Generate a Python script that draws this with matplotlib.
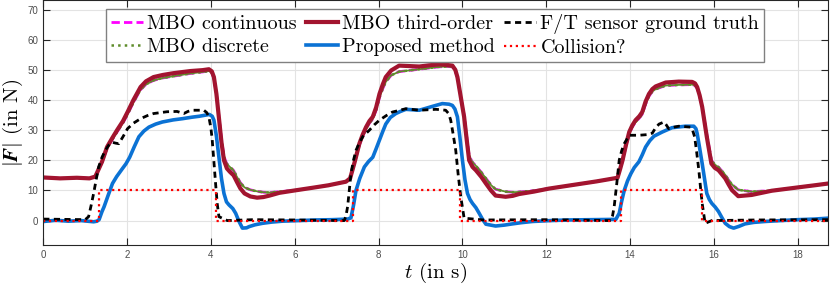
import matplotlib
matplotlib.use('Agg')
import matplotlib.pyplot as plt

plt.rcParams['mathtext.fontset'] = 'cm'
plt.rcParams['axes.unicode_minus'] = False

# MBO third-order (t in s, |F| in N)
t_third = [0, 0.4, 0.8, 1.1, 1.24, 1.4, 1.52, 1.65, 1.76, 1.9, 2.01, 2.15, 2.32, 2.45, 2.63, 2.85,
           3.11, 3.51, 3.8, 3.95, 4.02, 4.07, 4.13, 4.19, 4.25, 4.31, 4.38, 4.45, 4.54, 4.62, 4.7,
           4.8, 4.94, 5.1, 5.25, 5.4, 5.63, 6.0, 6.43, 6.8, 7.22, 7.32, 7.43, 7.54, 7.62, 7.7,
           7.78, 7.86, 7.94, 8.02, 8.1, 8.17, 8.3, 8.49, 8.97, 9.2, 9.44, 9.65, 9.76, 9.83, 9.88,
           9.96, 10.04, 10.1, 10.16, 10.24, 10.32, 10.45, 10.56, 10.68, 10.79, 11.03, 11.2,
           11.35, 11.7, 12.06, 12.63, 13.2, 13.7, 13.76, 13.82, 13.9, 13.98, 14.05, 14.13, 14.22,
           14.29, 14.37, 14.45, 14.53, 14.61, 14.85, 15.16, 15.48, 15.55, 15.6, 15.66, 15.72,
           15.83, 15.94, 16.02, 16.11, 16.27, 16.35, 16.43, 16.58, 16.9, 17.38, 18.0, 18.4, 18.73]
f_third = [14.3, 14.0, 14.2, 14.0, 14.6, 19.5, 24.4, 27.5, 30, 33, 36, 40, 44.3, 46.2, 47.6, 48.3,
           48.9, 49.6, 49.9, 50.2, 49.5, 47.6, 42, 34, 26, 20, 17.3, 16.2, 15, 12.8, 10.7,
           9, 8.0, 7.6, 7.8, 8.3, 9.2, 10.0, 10.9, 11.7, 12.9, 14, 19.5, 25.5, 28.5, 31,
           33, 34.4, 37.5, 42, 45.2, 47.6, 49.8, 51.4, 51.1, 51.5, 51.8, 51.6, 51.4, 50, 47.6,
           41, 34.4, 27, 20, 17.8, 16.7, 14.5, 12.3, 10, 8.3, 7.9, 8.2,
           8.8, 9.6, 10.6, 11.8, 13.0, 14.2, 17, 20, 25, 29.4, 31.5, 33.3, 34.6,
           36, 39.5, 42, 43.6, 44.5, 45.8, 46.1, 46, 45.5, 44.3, 41.5, 37.7,
           27.8, 18.9, 17.5, 16.7, 14, 12, 10.1, 8.1, 8.5, 9.9, 11, 11.7, 12.3]

# MBO discrete
t_disc = [0, 0.4, 0.8, 1.1, 1.24, 1.4, 1.52, 1.65, 1.76, 1.9, 2.01, 2.15, 2.32, 2.45, 2.63, 2.85,
          3.11, 3.51, 3.8, 3.95, 4.02, 4.07, 4.13, 4.19, 4.25, 4.31, 4.38, 4.45, 4.54, 4.62, 4.7,
          4.8, 4.94, 5.1, 5.25, 5.4, 5.63, 6.0, 6.43, 6.8, 7.22, 7.32, 7.43, 7.54, 7.62, 7.7,
          7.78, 7.86, 7.94, 8.02, 8.1, 8.17, 8.3, 8.49, 8.97, 9.2, 9.44, 9.65, 9.76, 9.83, 9.88,
          9.96, 10.04, 10.1, 10.16, 10.24, 10.32, 10.45, 10.56, 10.68, 10.79, 11.03, 11.2,
          11.35, 11.7, 12.06, 12.63, 13.2, 13.7, 13.76, 13.82, 13.9, 13.98, 14.05, 14.13, 14.22,
          14.29, 14.37, 14.45, 14.53, 14.61, 14.85, 15.16, 15.48, 15.55, 15.6, 15.66, 15.72,
          15.83, 15.94, 16.02, 16.11, 16.27, 16.35, 16.43, 16.58, 16.9, 17.2, 17.38, 18.0, 18.4,
          18.73]
f_disc = [14.3, 14.0, 14.2, 14.0, 14.6, 19.3, 24.0, 27.0, 29.4, 32.4, 35.2, 39.2, 43.4, 45.2, 46.5,
          47.3, 47.9, 48.8, 49.3, 49.6, 49.0, 47.2, 42, 34.5, 27, 21.2, 18.8, 17.8, 16.6, 14.5,
          12.6, 11.0, 10.2, 9.7, 9.4, 9.3, 9.6, 10.0, 10.9, 11.7, 12.9, 14, 19.3, 25.0, 28.0,
          30.4, 32.3, 33.7, 36.6, 40.8, 43.8, 46.0, 48.2, 49.4, 50.2, 50.6, 51.0, 51.1, 51.0,
          49.6, 47.4, 41, 35, 28, 21.5, 19.3, 18.2, 16, 14, 11.8, 10.4, 9.6, 9.4,
          9.5, 9.9, 10.6, 11.8, 13.0, 14.2, 17, 19.8, 24.6, 28.8, 31, 32.7, 34.0,
          35.3, 38.6, 41.2, 42.8, 43.6, 44.8, 45.0, 45.1, 44.8, 43.8, 41.2, 37.8,
          28.6, 20.0, 18.6, 17.7, 15.2, 13.4, 12.0, 10.2, 9.6, 9.8, 9.9, 11, 11.7,
          12.3]

# MBO continuous lies on top of MBO discrete in the figure
t_cont = t_disc
f_cont = f_disc

# Proposed method
t_prop = [0, 0.3, 0.6, 0.9, 1.2, 1.28, 1.33, 1.4, 1.45, 1.55, 1.65, 1.75, 1.89, 1.97, 2.06, 2.17,
          2.28, 2.4, 2.52, 2.68, 2.84, 3.1, 3.32, 3.55, 3.72, 3.96, 4.03, 4.07, 4.13, 4.19, 4.25,
          4.31, 4.37, 4.43, 4.52, 4.59, 4.66, 4.75, 4.85, 4.91, 5.05, 5.23, 5.45, 5.7, 6.1, 6.5,
          6.9, 7.26, 7.34, 7.4, 7.46, 7.55, 7.66, 7.76, 7.86, 7.94, 8.02, 8.1, 8.17, 8.28, 8.41,
          8.52, 8.65, 8.97, 9.12, 9.29, 9.52, 9.68, 9.76, 9.82, 9.88, 9.94, 10.0, 10.06, 10.12,
          10.18, 10.24, 10.32, 10.4, 10.48, 10.56, 10.79, 11.0, 11.19, 11.4, 11.67, 12.1, 12.5,
          13.1, 13.66, 13.74, 13.8, 13.86, 13.94, 14.02, 14.1, 14.21, 14.29, 14.37, 14.47,
          14.57, 14.77, 15.0, 15.32, 15.52, 15.57, 15.6, 15.66, 15.72, 15.78, 15.83, 15.89,
          15.95, 16.03, 16.11, 16.19, 16.27, 16.37, 16.47, 16.6, 16.74, 16.95, 17.22, 17.6,
          18.0, 18.4, 18.73]
f_prop = [-0.3, 0.1, -0.2, 0, -0.4, -0.2, 0.3, 3, 4.6, 8.5, 12.3, 14.6, 17.3, 18.8, 21, 24.5,
          27.8, 29.7, 31, 32, 32.7, 33.4, 33.8, 34.3, 34.6, 35.2, 34.6, 33.3, 28, 21, 14,
          9, 6.2, 5.2, 4.0, 2.4, 0, -2.5, -2.4, -2.0, -1.4, -0.9, -0.5, -0.2, 0, 0.2,
          0.3, 0.5, 0.9, 5, 10, 14, 17.8, 19.6, 21, 23.8, 26.7, 29.6, 32, 34.2, 35.5,
          36.2, 36.9, 36.6, 37.2, 37.9, 38.8, 38.6, 38.2, 37, 34.4, 27.5, 20, 13.5, 9,
          7, 5.7, 4.3, 2.4, 0.4, -1.2, -1.8, -1.5, -1.1, -0.7, -0.3, 0, 0.2,
          0.3, 0.4, 2.4, 6.5, 10, 13.2, 15.6, 17.6, 19.5, 21.8, 24.4, 26.5,
          28, 29.4, 30.8, 31.3, 31.3, 30.5, 28.9, 24, 18.9, 13.5, 9, 7,
          5.7, 4.5, 3, 1.0, -0.9, -2.0, -2.5, -1.9, -1.1, -0.6, -0.3, 0,
          0.3, 0.5, 0.8]

# F/T sensor ground truth
t_ft = [0, 0.5, 1.0, 1.08, 1.14, 1.2, 1.26, 1.32, 1.4, 1.48, 1.56, 1.64, 1.72, 1.8, 1.9, 2.01,
        2.15, 2.32, 2.48, 2.63, 2.95, 3.19, 3.35, 3.45, 3.55, 3.83, 3.9, 3.95, 4.0, 4.03, 4.07,
        4.11, 4.15, 4.19, 4.39, 5.0, 6.0, 7.18, 7.22, 7.26, 7.3, 7.34, 7.4, 7.46, 7.54, 7.62,
        7.78, 7.9, 8.02, 8.18, 8.33, 8.65, 8.97, 9.37, 9.6, 9.67, 9.72, 9.78, 9.84, 9.9, 9.96,
        10.04, 10.5, 12.0, 13.54, 13.58, 13.62, 13.68, 13.74, 13.8, 13.86, 13.98, 14.21, 14.4,
        14.53, 14.61, 14.69, 14.81, 14.86, 14.92, 15.05, 15.16, 15.44, 15.49, 15.54, 15.59,
        15.64, 15.68, 15.72, 15.79, 15.95, 17.0, 18.73]
f_ft = [0.5, 0.4, 0.3, 1.3, 5, 9, 13.5, 17.8, 21, 23.3, 25, 26, 25.7, 25.5, 27.8, 30.5,
        32.3, 33.8, 34.8, 35.5, 36.1, 36.2, 35.5, 36.2, 36.6, 36.6, 35.8, 34.4, 30.5, 26.7, 19.5,
        12.3, 5.5, 1.3, 0, 0.3, 0.2, 0, 1.5, 4.6, 10, 15.6, 20, 23.3, 25.8, 27.8,
        30, 31.8, 33.3, 34.8, 36, 37.1, 36.6, 36.9, 36.6, 35.5, 33.3, 28.5, 23.3, 15, 7.9,
        0.8, 0.2, 0.3, 0, 1.5, 4.6, 12, 20, 23.2, 25.5, 28.3, 28.3, 28.5,
        29, 30.8, 32, 32.7, 31.8, 30.5, 31, 31.3, 31, 30, 27.8, 22.5,
        16.7, 11, 5.7, -0.9, 0, 0.2, 0.3]

# Collision? flag
t_coll = [0, 1.32, 4.13, 7.39, 9.95, 13.79, 15.72, 18.73]
f_coll = [0, 10, 0, 10, 0, 10, 0, 0]

fig = plt.figure(figsize=(8.3, 2.88), dpi=100)
ax = fig.add_axes([0.0522, 0.1493, 0.9458, 0.849])

ax.plot(t_cont, f_cont, color='#ff00ff', lw=2.0, dashes=(3, 1.5), label='MBO continuous')
ax.plot(t_disc, f_disc, ':', color='#5e8c2a', lw=1.8, label='MBO discrete')
ax.plot(t_disc, f_disc, '-', color='#5e8c2a', lw=1.3)
ax.plot(t_third, f_third, '-', color='#a2142f', lw=3.0, label='MBO third-order')
ax.plot(t_prop, f_prop, '-', color='#0b72d4', lw=2.6, label='Proposed method')
ax.plot(t_ft, f_ft, color='black', lw=2.0, dashes=(2.2, 1.6), label='F/T sensor ground truth')
ax.plot(t_coll, f_coll, ':', color='red', lw=1.6, drawstyle='steps-post', label='Collision?')

ax.set_xlim(0, 18.73)
ax.set_ylim(-8.1, 73)
ax.set_xticks(range(0, 19, 2))
ax.set_yticks(range(0, 71, 10))
ax.grid(True, color='#e3e3e3', lw=0.8)
ax.set_axisbelow(True)
ax.tick_params(direction='in', length=5, width=0.8, labelsize=7, colors='#262626',
               labelcolor='#4d4d4d', top=True, right=True)
for lab in ax.get_xticklabels() + ax.get_yticklabels():
    lab.set_family('Liberation Sans')
for s in ax.spines.values():
    s.set_color('#262626')
    s.set_linewidth(0.8)

ax.set_xlabel(r'$t$ (in s)', fontsize=15, family='cmr10', labelpad=1)
ax.set_ylabel(r'$|\boldsymbol{F}|$ (in N)', fontsize=15, family='cmr10', labelpad=2)

leg = ax.legend(ncol=3, loc='upper left', bbox_to_anchor=(0.0799, 0.966),
                prop={'family': 'cmr10', 'size': 14.5}, frameon=True, fancybox=False,
                edgecolor='#808080', framealpha=1, borderpad=0.25, labelspacing=0.25,
                handlelength=1.6, handletextpad=0.2, columnspacing=0.45, borderaxespad=0)
leg.get_frame().set_linewidth(1.0)

fig.savefig('out.png', dpi=100)
